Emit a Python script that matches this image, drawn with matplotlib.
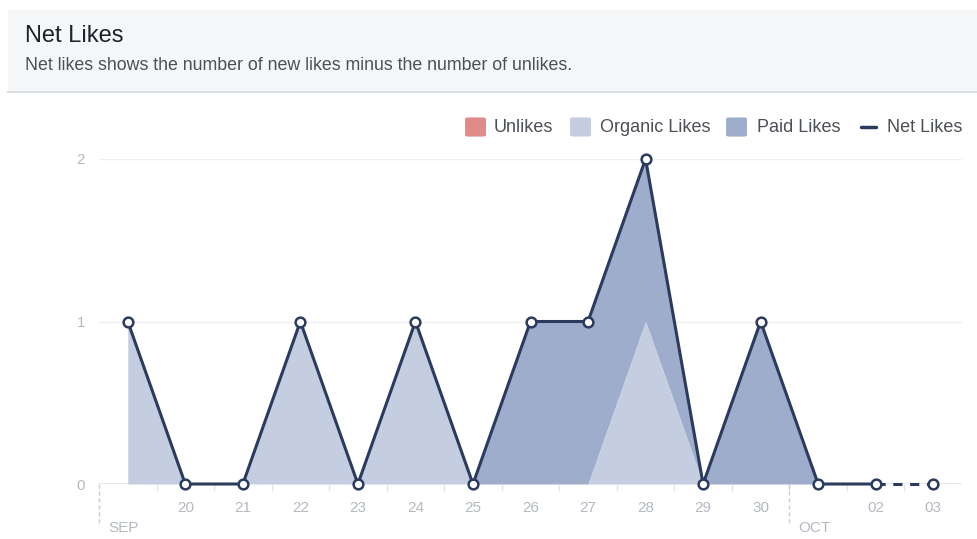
import matplotlib
matplotlib.use("Agg")
import matplotlib.pyplot as plt
import matplotlib.transforms as mtransforms
from matplotlib.patches import FancyBboxPatch, Rectangle
from matplotlib.lines import Line2D
import numpy as np

plt.rcParams['font.family'] = ['Liberation Sans', 'DejaVu Sans']

# data: Sep 19 .. Oct 03
days = ['19', '20', '21', '22', '23', '24', '25', '26', '27', '28', '29', '30', '01', '02', '03']
months = ['SEP'] * 12 + ['OCT'] * 3
organic = [1, 0, 0, 1, 0, 1, 0, 0, 0, 1, 0, 0, 0, 0, 0]
paid = [0, 0, 0, 0, 0, 0, 0, 1, 1, 1, 0, 1, 0, 0, 0]
unlikes = [0, 0, 0, 0, 0, 0, 0, 0, 0, 0, 0, 0, 0, 0, 0]
yticks = [0, 1, 2]

organic = np.array(organic)
paid = np.array(paid)
unlikes = np.array(unlikes)
net = organic + paid - unlikes
x = np.arange(len(days))

c_unlikes = '#e08a8a'
c_organic = '#c5cee0'
c_paid = '#9eadcb'
c_net = '#2b3b5e'
c_axis = '#b4b9c2'

W, H = 978, 539
fig = plt.figure(figsize=(W / 100, H / 100), dpi=100)


def fx(px):
    return px / W


def fy(py):
    return 1 - py / H


# header box
fig.add_artist(Rectangle((fx(8), fy(92)), fx(978 - 8), 82 / H, transform=fig.transFigure,
                         facecolor='#f5f6f7', edgecolor='none', zorder=0))
fig.add_artist(Line2D([fx(8), 1], [fy(92), fy(92)], transform=fig.transFigure,
                      color='#dadde1', lw=1.5))
fig.text(fx(25), fy(36), 'Net Likes', fontsize=17, color='#1d2129', va='center')
fig.text(fx(25), fy(65), 'Net likes shows the number of new likes minus the number of unlikes.',
         fontsize=12.8, color='#4b4f56', va='center')

# chart area
ax = fig.add_axes([fx(99), fy(484), fx(962 - 99), (484 - 159) / H])
ax.set_xlim(-0.5, len(days) - 0.5)
ax.set_ylim(0, 2)

for y in yticks[1:]:
    ax.axhline(y, color='#eeeff2', lw=1, zorder=0)
ax.axhline(0, color='#e6e3e6', lw=1.2, zorder=0)

ax.fill_between(x, 0, -unlikes, color=c_unlikes, lw=0, zorder=1)
ax.fill_between(x, 0, organic, color=c_organic, lw=0, zorder=2)
ax.fill_between(x, organic, organic + paid, color=c_paid, lw=0, zorder=1)

ax.plot(x[:-1], net[:-1], color=c_net, lw=2.2, zorder=4, clip_on=False)
ax.plot(x[-2:], net[-2:], color=c_net, lw=2.2, zorder=4, clip_on=False, dashes=(3, 2.5))
ax.plot(x, net, 'o', ms=7, mfc='white', mec=c_net, mew=1.8, zorder=5, clip_on=False)

for s in ax.spines.values():
    s.set_visible(False)

# day labels (first day and month starts replaced by month label)
labels = []
for i, d in enumerate(days):
    if i == 0 or months[i] != months[i - 1]:
        labels.append('')
    else:
        labels.append(d)
ax.set_xticks(x)
ax.set_xticklabels(labels)
ax.set_xticks(x[:-1] + 0.5, minor=True)
ax.tick_params(axis='x', which='major', length=0, pad=12, labelsize=11, labelcolor=c_axis)
ax.tick_params(axis='x', which='minor', length=5, width=1, color='#e3e4e8', direction='out')
ax.set_yticks(yticks)
ax.tick_params(axis='y', length=0, pad=10, labelsize=11, labelcolor=c_axis)

# month boundaries
trans = mtransforms.blended_transform_factory(ax.transData, ax.transAxes)
for i, m in enumerate(months):
    if i == 0 or m != months[i - 1]:
        xb = i - 0.5
        ax.plot([xb, xb], [0, -0.12], transform=trans, color='#c9ccd2', lw=1,
                ls=(0, (3, 2)), clip_on=False)
        ax.annotate(m, xy=(xb, 0), xycoords=trans, xytext=(6.5, -31.5),
                    textcoords='offset points', fontsize=11, color=c_axis,
                    ha='left', va='center')

# legend
ly = 127
items = [('Unlikes', c_unlikes, 466, 494), ('Organic Likes', c_organic, 571, 600),
         ('Paid Likes', c_paid, 727, 757)]
for name, col, sx, tx in items:
    fig.add_artist(FancyBboxPatch((fx(sx + 1), fy(ly + 8.5)), fx(17), 17 / H,
                                  boxstyle='round,pad=0.002,rounding_size=0.003',
                                  transform=fig.transFigure, facecolor=col, edgecolor='none'))
    fig.text(fx(tx), fy(ly), name, fontsize=13, color='#4b4f56', va='center')
fig.add_artist(Line2D([fx(861), fx(876)], [fy(ly), fy(ly)], transform=fig.transFigure,
                      color=c_net, lw=2.5, solid_capstyle='round'))
fig.text(fx(887), fy(ly), 'Net Likes', fontsize=13, color='#4b4f56', va='center')

fig.savefig('out.png', dpi=100)
